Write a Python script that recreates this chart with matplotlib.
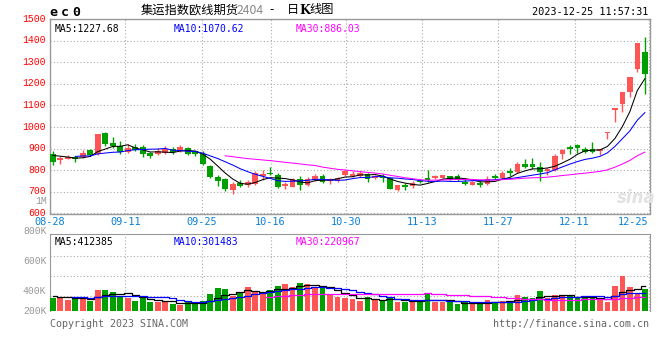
import numpy as np
import pandas as pd
import matplotlib
matplotlib.use('Agg')
import matplotlib.pyplot as plt
import matplotlib.transforms as mtransforms

# daily candles of EC2404, 2023-08-28 .. 2023-12-25
opens = [874, 847, 853, 862, 862, 895, 874, 971, 927, 912,
         886, 908, 908, 879, 874, 879, 900, 889, 905, 889,
         874, 821, 771, 760, 710, 743, 730, 736, 772, 789,
         778, 727, 724, 759, 733, 754, 774, 751, 751, 778,
         772, 775, 781, 763, 774, 763, 710, 730, 725, 752,
         763, 763, 763, 774, 775, 746, 733, 741, 737, 775,
         763, 798, 792, 830, 829, 816, 795, 801, 874, 908,
         917, 900, 900, 889, 974, 1079, 1105, 1163, 1269, 1348]
closes = [839, 856, 862, 851, 882, 870, 968, 920, 912, 885,
          905, 895, 874, 864, 889, 897, 886, 909, 877, 874,
          829, 768, 750, 715, 737, 728, 748, 789, 781, 781,
          721, 736, 759, 733, 759, 774, 745, 760, 766, 798,
          783, 786, 760, 774, 763, 715, 730, 722, 743, 746,
          754, 774, 778, 760, 757, 737, 746, 733, 760, 766,
          789, 787, 827, 816, 813, 791, 806, 867, 894, 897,
          905, 886, 885, 898, 977, 1088, 1163, 1231, 1390, 1245]
highs = [889, 867, 871, 867, 894, 900, 970, 977, 955, 935,
         920, 923, 915, 885, 905, 912, 908, 915, 908, 892,
         889, 824, 780, 766, 745, 754, 754, 797, 801, 814,
         786, 748, 763, 774, 768, 781, 781, 766, 771, 801,
         797, 797, 786, 778, 781, 768, 733, 740, 751, 756,
         800, 778, 780, 775, 781, 763, 751, 751, 774, 781,
         798, 809, 839, 851, 859, 836, 810, 877, 897, 915,
         923, 908, 930, 898, 977, 1088, 1163, 1231, 1390, 1415]
lows = [824, 829, 850, 836, 856, 867, 871, 912, 905, 877,
        882, 889, 862, 859, 871, 874, 877, 886, 871, 867,
        826, 765, 726, 705, 689, 724, 724, 730, 756, 778,
        718, 713, 721, 710, 727, 751, 739, 736, 745, 775,
        768, 771, 748, 758, 748, 712, 703, 710, 717, 740,
        745, 760, 762, 756, 751, 731, 730, 721, 734, 760,
        760, 775, 786, 812, 806, 750, 780, 798, 853, 877,
        882, 882, 882, 871, 946, 1023, 1069, 1140, 1257, 1155]
# volume in thousands of lots
volumes = [353, 349, 340, 353, 353, 331, 405, 405, 391, 368,
           349, 331, 351, 325, 323, 331, 313, 305, 323, 313,
           331, 377, 420, 411, 367, 391, 427, 393, 389, 405,
           431, 446, 426, 453, 445, 427, 416, 375, 360, 353,
           345, 331, 360, 338, 331, 353, 327, 327, 323, 327,
           378, 327, 323, 323, 309, 323, 309, 323, 338, 327,
           331, 323, 371, 360, 353, 398, 349, 371, 371, 365,
           349, 349, 365, 345, 327, 431, 498, 425, 378, 413]
# the six sessions before 08-28, only needed for the moving averages
prev_closes = [860, 868, 875, 880, 878, 872]
prev_volumes = [350, 372, 365, 358, 370, 362]

date_labels = ['08-28', '09-11', '09-25', '10-16', '10-30', '11-13', '11-27', '12-11', '12-25']
date_slots = [0, 10.04, 20.23, 29.43, 39.56, 49.69, 59.77, 70.0, 79.9]
price_ticks = [600, 700, 800, 900, 1000, 1100, 1200, 1300, 1400, 1500]
vol_labels = ['800K', '600K', '400K']
vol_label_vals = [800, 600, 400]

RED = '#FF5555'
GREEN = '#009F00'
GRID = '#AAAAAA'
FRAME = '#999999'
MONO = 'DejaVu Sans Mono'

W, H = 660, 360


def fx(px):
    return px / W


def fy(py):
    return 1 - py / H


n = len(closes)
x = np.arange(n)
o = np.array(opens, float)
c = np.array(closes, float)
up = c >= o
colors = [RED if u else GREEN for u in up]

cl = pd.Series(prev_closes + closes)
k = len(prev_closes)
ma5 = cl.rolling(5).mean().values[k:]
ma10 = cl.rolling(10).mean().values[k:]
ma30 = cl.rolling(30).mean().values[k:]

vs = pd.Series(prev_volumes + volumes)
vma5 = vs.rolling(5).mean().values[k:]
vma10 = vs.rolling(10).mean().values[k:]
vma30 = pd.Series(volumes).rolling(30).mean().values

fig = plt.figure(figsize=(6.6, 3.6), dpi=100)
ax = fig.add_axes([fx(50), fy(213.5), 599.5 / W, 194.5 / H])
axv = fig.add_axes([fx(50), fy(311), 599.5 / W, 76.7 / H])

bw = 0.76
# candles
body = np.maximum(np.abs(c - o), 4)
ax.vlines(x + bw / 2, lows, highs, colors=colors, linewidth=1, zorder=3)
ax.bar(x, body, bottom=np.minimum(o, c), width=bw, align='edge',
       color=colors, linewidth=0, zorder=3)
ax.plot(x + bw / 2, ma5, color='black', linewidth=0.75, zorder=4)
ax.plot(x + bw / 2, ma10, color='#0000FF', linewidth=0.75, zorder=4)
ax.plot(x + bw / 2, ma30, color='#FF00FF', linewidth=0.75, zorder=4)

ax.set_xlim(0, 80)
ax.set_ylim(600, 1500)
ax.set_yticks(price_ticks)
ax.set_xticks(date_slots)
ax.set_xticklabels(date_labels)
ax.grid(True, color=GRID, linestyle=(0, (1, 2)), linewidth=0.8)
ax.tick_params(axis='y', length=0, pad=3, labelcolor='#FF0000', labelsize=7)
ax.tick_params(axis='x', length=0, pad=2.5, labelcolor='#0A7FD6', labelsize=7.4)
shift_up = mtransforms.ScaledTranslation(0, 1.5 / 100, fig.dpi_scale_trans)
for lbl in ax.get_yticklabels():
    lbl.set_fontfamily('Liberation Mono')
    lbl.set_transform(lbl.get_transform() + shift_up)
for lbl in ax.get_xticklabels():
    lbl.set_fontfamily(MONO)
ax.get_xticklabels()[-1].set_ha('right')
for s in ax.spines.values():
    s.set_color(FRAME)
    s.set_linewidth(1)

ax.text(0.007, 0.975, 'MA5:1227.68', transform=ax.transAxes, color='black',
        fontsize=7, family=MONO, va='top')
ax.text(0.207, 0.975, 'MA10:1070.62', transform=ax.transAxes, color='#0000FF',
        fontsize=7, family=MONO, va='top')
ax.text(0.409, 0.975, 'MA30:886.03', transform=ax.transAxes, color='#FF00FF',
        fontsize=7, family=MONO, va='top')

# volume pane
axv.bar(x, volumes, width=bw, align='edge', color=colors, linewidth=0, zorder=3)
axv.plot(x + bw / 2, vma5, color='black', linewidth=0.9, drawstyle='steps-mid', zorder=4)
axv.plot(x + bw / 2, vma10, color='#0000FF', linewidth=0.9, drawstyle='steps-mid', zorder=4)
axv.plot(x + bw / 2, vma30, color='#FF00FF', linewidth=0.9, drawstyle='steps-mid', zorder=4)
axv.set_xlim(0, 80)
axv.set_ylim(264.7, 776)
axv.set_yticks([366.7, 500, 633.3])
axv.set_xticks(date_slots)
axv.set_xticklabels([])
axv.set_yticklabels([])
axv.tick_params(length=0)
axv.grid(True, color=GRID, linestyle=(0, (1, 2)), linewidth=0.8)
for s in axv.spines.values():
    s.set_color(FRAME)
axv.spines['bottom'].set_visible(False)

tr = mtransforms.blended_transform_factory(axv.transAxes, axv.transData)
for lab, val in zip(vol_labels, vol_label_vals):
    axv.text(-0.006, val, lab, transform=tr, ha='right', va='center', color='#999999',
             fontsize=7, family='Liberation Mono', clip_on=False)
axv.text(-0.006, 264.7, '200K', transform=tr, ha='right', va='center', color='#999999',
         fontsize=7, family='Liberation Mono', clip_on=False)

axv.text(0.007, 0.97, 'MA5:412385', transform=axv.transAxes, color='black',
         fontsize=7, family=MONO, va='top')
axv.text(0.207, 0.97, 'MA10:301483', transform=axv.transAxes, color='#0000FF',
         fontsize=7, family=MONO, va='top')
axv.text(0.409, 0.97, 'MA30:220967', transform=axv.transAxes, color='#FF00FF',
         fontsize=7, family=MONO, va='top')

# header
for ch, px in zip('ec0', [49.3, 61, 72.7]):
    fig.text(fx(px), fy(12.5), ch, fontsize=9.5, family=MONO, weight='bold', va='center')
cjk = ['Noto Sans CJK SC', 'DejaVu Sans']
fig.text(fx(140.5), fy(10), '集运指数欧线期货', fontsize=8.8, family=cjk, va='center')
fig.text(fx(237), fy(10), '2404', fontsize=8.8, family=cjk, va='center', color='#888888')
fig.text(fx(269), fy(10), '-', fontsize=8.8, family=cjk, va='center')
fig.text(fx(286.5), fy(10), '日', fontsize=8.8, family=cjk, va='center')
fig.text(fx(299), fy(10), 'K', fontsize=8.8, family='DejaVu Serif', weight='bold', va='center')
fig.text(fx(309), fy(10), '线图', fontsize=8.8, family=cjk, va='center')
fig.text(fx(648), fy(12), '2023-12-25 11:57:31', fontsize=7.4, family=MONO,
         ha='right', va='center')

fig.text(fx(46.5), fy(201.5), '1M', fontsize=7, family='Liberation Mono', ha='right',
         va='center', color='#999999')
fig.text(fx(636), fy(198), 'sina', fontsize=12, weight='bold', style='italic',
         color='#E2E2E2', ha='center', va='center')

fig.text(fx(50), fy(324), 'Copyright 2023 SINA.COM', fontsize=7.2, family=MONO,
         va='center', color='#666666')
fig.text(fx(649), fy(324), 'http://finance.sina.com.cn', fontsize=7.2, family=MONO,
         ha='right', va='center', color='#666666')

fig.savefig('out.png', dpi=100, facecolor='white')
